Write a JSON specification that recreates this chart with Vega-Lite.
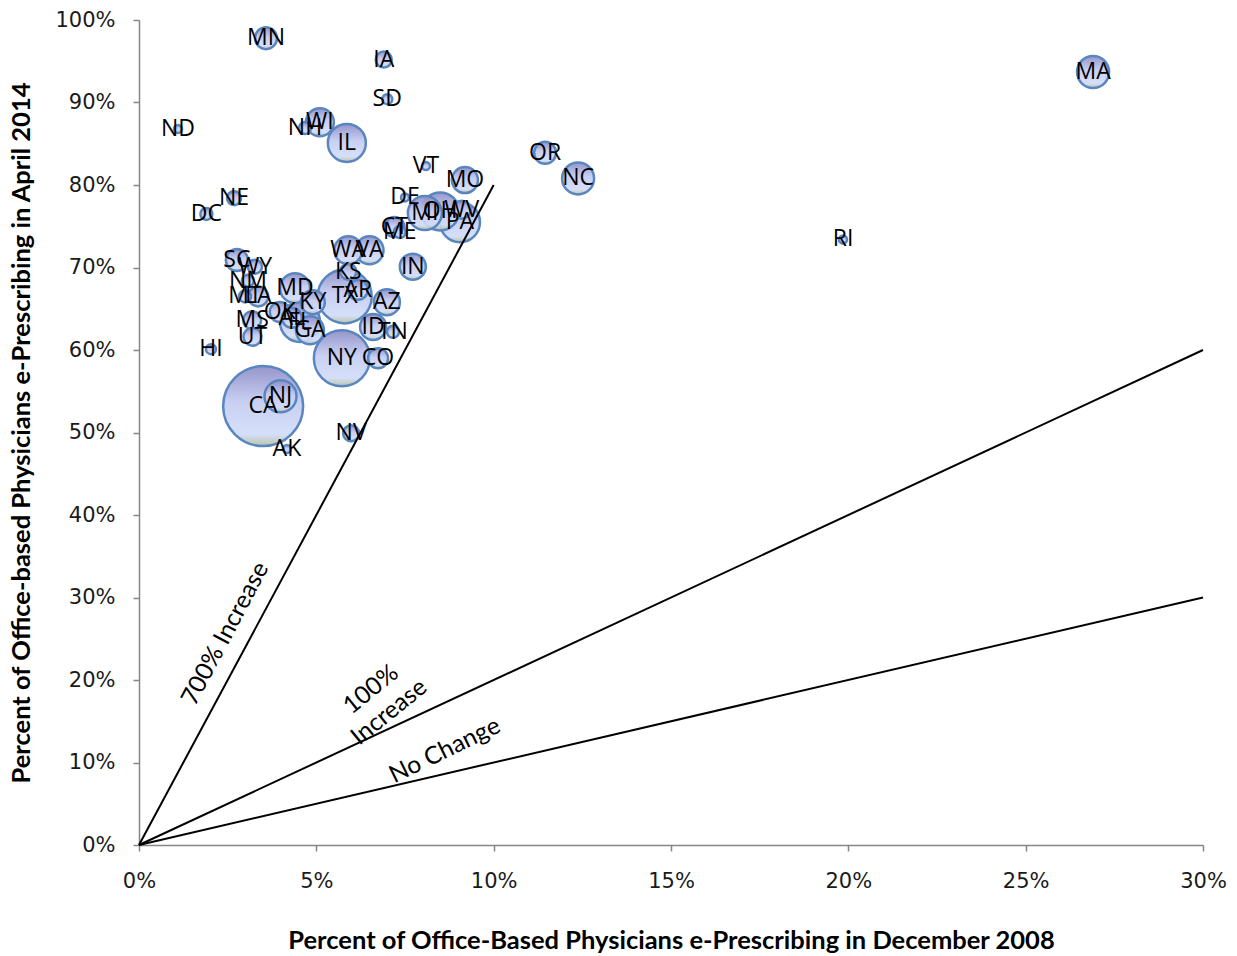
{
  "$schema": "https://vega.github.io/schema/vega-lite/v6.json",
  "width": 1064,
  "height": 825,
  "autosize": {"type": "none"},
  "padding": {"left": 139, "top": 20, "right": 34, "bottom": 111},
  "background": "white",
  "config": {"view": {"stroke": null}},
  "datasets": {
    "states": [
      {"state": "CA", "dec2008": 0.035, "apr2014": 0.532, "size": 1600},
      {"state": "NY", "dec2008": 0.0572, "apr2014": 0.590, "size": 784},
      {"state": "TX", "dec2008": 0.058, "apr2014": 0.665, "size": 729},
      {"state": "FL", "dec2008": 0.0454, "apr2014": 0.634, "size": 400},
      {"state": "PA", "dec2008": 0.0905, "apr2014": 0.755, "size": 400},
      {"state": "OH", "dec2008": 0.0849, "apr2014": 0.768, "size": 361},
      {"state": "MI", "dec2008": 0.0806, "apr2014": 0.766, "size": 289},
      {"state": "IL", "dec2008": 0.0586, "apr2014": 0.851, "size": 361},
      {"state": "NJ", "dec2008": 0.0399, "apr2014": 0.544, "size": 256},
      {"state": "NC", "dec2008": 0.1238, "apr2014": 0.808, "size": 256},
      {"state": "MA", "dec2008": 0.269, "apr2014": 0.937, "size": 256},
      {"state": "GA", "dec2008": 0.0482, "apr2014": 0.624, "size": 196},
      {"state": "VA", "dec2008": 0.065, "apr2014": 0.721, "size": 196},
      {"state": "WA", "dec2008": 0.059, "apr2014": 0.721, "size": 196},
      {"state": "WI", "dec2008": 0.051, "apr2014": 0.876, "size": 196},
      {"state": "MD", "dec2008": 0.044, "apr2014": 0.675, "size": 225},
      {"state": "MO", "dec2008": 0.0919, "apr2014": 0.806, "size": 169},
      {"state": "AZ", "dec2008": 0.0699, "apr2014": 0.658, "size": 169},
      {"state": "IN", "dec2008": 0.0772, "apr2014": 0.701, "size": 169},
      {"state": "ID", "dec2008": 0.066, "apr2014": 0.628, "size": 169},
      {"state": "KY", "dec2008": 0.049, "apr2014": 0.658, "size": 144},
      {"state": "MN", "dec2008": 0.0358, "apr2014": 0.978, "size": 121},
      {"state": "OR", "dec2008": 0.1145, "apr2014": 0.839, "size": 121},
      {"state": "SC", "dec2008": 0.0276, "apr2014": 0.709, "size": 121},
      {"state": "OK", "dec2008": 0.0397, "apr2014": 0.646, "size": 100},
      {"state": "AL", "dec2008": 0.0431, "apr2014": 0.639, "size": 100},
      {"state": "LA", "dec2008": 0.0336, "apr2014": 0.665, "size": 100},
      {"state": "CO", "dec2008": 0.0674, "apr2014": 0.590, "size": 100},
      {"state": "CT", "dec2008": 0.072, "apr2014": 0.749, "size": 100},
      {"state": "AR", "dec2008": 0.0617, "apr2014": 0.673, "size": 100},
      {"state": "WV", "dec2008": 0.091, "apr2014": 0.770, "size": 81},
      {"state": "MS", "dec2008": 0.0319, "apr2014": 0.636, "size": 81},
      {"state": "UT", "dec2008": 0.032, "apr2014": 0.616, "size": 81},
      {"state": "IA", "dec2008": 0.069, "apr2014": 0.952, "size": 64},
      {"state": "KS", "dec2008": 0.059, "apr2014": 0.695, "size": 64},
      {"state": "NV", "dec2008": 0.0598, "apr2014": 0.499, "size": 64},
      {"state": "NE", "dec2008": 0.0268, "apr2014": 0.784, "size": 49},
      {"state": "WY", "dec2008": 0.0327, "apr2014": 0.701, "size": 49},
      {"state": "NH", "dec2008": 0.0468, "apr2014": 0.869, "size": 36},
      {"state": "DC", "dec2008": 0.019, "apr2014": 0.765, "size": 36},
      {"state": "NM", "dec2008": 0.0307, "apr2014": 0.684, "size": 36},
      {"state": "MT", "dec2008": 0.0299, "apr2014": 0.665, "size": 36},
      {"state": "ME", "dec2008": 0.0735, "apr2014": 0.743, "size": 36},
      {"state": "TN", "dec2008": 0.0716, "apr2014": 0.622, "size": 36},
      {"state": "SD", "dec2008": 0.070, "apr2014": 0.904, "size": 25},
      {"state": "HI", "dec2008": 0.0203, "apr2014": 0.601, "size": 25},
      {"state": "ND", "dec2008": 0.011, "apr2014": 0.868, "size": 16},
      {"state": "VT", "dec2008": 0.0809, "apr2014": 0.823, "size": 16},
      {"state": "DE", "dec2008": 0.075, "apr2014": 0.785, "size": 16},
      {"state": "RI", "dec2008": 0.1985, "apr2014": 0.734, "size": 16},
      {"state": "AK", "dec2008": 0.0417, "apr2014": 0.480, "size": 16}
    ],
    "lines": [
      {"series": "700% Increase", "dec2008": 0, "apr2014": 0},
      {"series": "700% Increase", "dec2008": 0.10, "apr2014": 0.80},
      {"series": "100% Increase", "dec2008": 0, "apr2014": 0},
      {"series": "100% Increase", "dec2008": 0.30, "apr2014": 0.60},
      {"series": "No Change", "dec2008": 0, "apr2014": 0},
      {"series": "No Change", "dec2008": 0.30, "apr2014": 0.30}
    ]
  },
  "layer": [
    {
      "data": {"name": "states"},
      "mark": {
        "type": "point",
        "shape": "circle",
        "filled": true,
        "fill": {
          "gradient": "linear",
          "x1": 0, "y1": 0, "x2": 0, "y2": 1,
          "stops": [
            {"offset": 0, "color": "#8c8cc6"},
            {"offset": 0.45, "color": "#c4ccf2"},
            {"offset": 0.85, "color": "#d2dcf8"},
            {"offset": 1, "color": "#b4c0a4"}
          ]
        },
        "fillOpacity": 0.92,
        "stroke": "#5a86c0",
        "strokeWidth": 2.5
      },
      "encoding": {
        "x": {
          "field": "dec2008", "type": "quantitative",
          "scale": {"domain": [0, 0.30], "nice": false, "zero": true},
          "axis": {
            "title": "Percent of Office-Based Physicians e-Prescribing in December 2008",
            "format": ".0%",
            "values": [0, 0.05, 0.10, 0.15, 0.20, 0.25, 0.30],
            "grid": false,
            "labelFlush": false,
            "domainColor": "#868686", "domainWidth": 1.5,
            "tickColor": "#868686", "tickSize": 6, "tickWidth": 1.5,
            "labelFont": "DejaVu Sans", "labelFontSize": 21, "labelColor": "#1a1a1a",
            "labelPadding": 19,
            "titleFont": "Lato", "titleFontSize": 25.5, "titleFontWeight": "bold", "titleColor": "#000000",
            "titlePadding": 37
          }
        },
        "y": {
          "field": "apr2014", "type": "quantitative",
          "scale": {"domain": [0, 1], "nice": false},
          "axis": {
            "title": "Percent of Office-based Physicians e-Prescribing in April 2014",
            "format": ".0%",
            "values": [0, 0.1, 0.2, 0.3, 0.4, 0.5, 0.6, 0.7, 0.8, 0.9, 1.0],
            "grid": false,
            "labelFlush": false,
            "domainColor": "#868686", "domainWidth": 1.5,
            "tickColor": "#868686", "tickSize": 6, "tickWidth": 1.5,
            "labelFont": "DejaVu Sans", "labelFontSize": 21, "labelColor": "#1a1a1a",
            "labelPadding": 18,
            "titleFont": "Lato", "titleFontSize": 25.5, "titleFontWeight": "bold", "titleColor": "#000000",
            "titlePadding": 20
          }
        },
        "size": {
          "field": "size", "type": "quantitative",
          "scale": {"type": "linear", "domain": [0, 1600], "range": [0, 6400], "zero": true},
          "legend": null
        },
        "order": {"field": "size", "sort": "descending"}
      }
    },
    {
      "data": {"name": "lines"},
      "mark": {"type": "line", "color": "#000000", "strokeWidth": 2},
      "encoding": {
        "x": {"field": "dec2008", "type": "quantitative"},
        "y": {"field": "apr2014", "type": "quantitative"},
        "detail": {"field": "series"}
      }
    },
    {
      "data": {"name": "states"},
      "mark": {"type": "text", "font": "Open Sans", "fontSize": 23, "color": "#000000", "align": "center", "baseline": "middle"},
      "encoding": {
        "x": {"field": "dec2008", "type": "quantitative"},
        "y": {"field": "apr2014", "type": "quantitative"},
        "text": {"field": "state"}
      }
    },
    {
      "data": {"values": [{"label": "700% Increase", "dec2008": 0.0245, "apr2014": 0.256}]},
      "mark": {"type": "text", "font": "Lato", "fontSize": 24.5, "angle": 298, "align": "center", "baseline": "middle", "color": "#000000"},
      "encoding": {
        "x": {"field": "dec2008", "type": "quantitative"},
        "y": {"field": "apr2014", "type": "quantitative"},
        "text": {"field": "label"}
      }
    },
    {
      "data": {"values": [{"label": ["100%", "Increase"], "dec2008": 0.0655, "apr2014": 0.188}]},
      "mark": {"type": "text", "font": "Lato", "fontSize": 24.5, "angle": 321, "align": "center", "baseline": "middle", "lineHeight": 29, "color": "#000000"},
      "encoding": {
        "x": {"field": "dec2008", "type": "quantitative"},
        "y": {"field": "apr2014", "type": "quantitative"},
        "text": {"field": "label"}
      }
    },
    {
      "data": {"values": [{"label": "No Change", "dec2008": 0.0863, "apr2014": 0.114}]},
      "mark": {"type": "text", "font": "Lato", "fontSize": 24.5, "angle": 334, "align": "center", "baseline": "middle", "color": "#000000"},
      "encoding": {
        "x": {"field": "dec2008", "type": "quantitative"},
        "y": {"field": "apr2014", "type": "quantitative"},
        "text": {"field": "label"}
      }
    }
  ]
}
